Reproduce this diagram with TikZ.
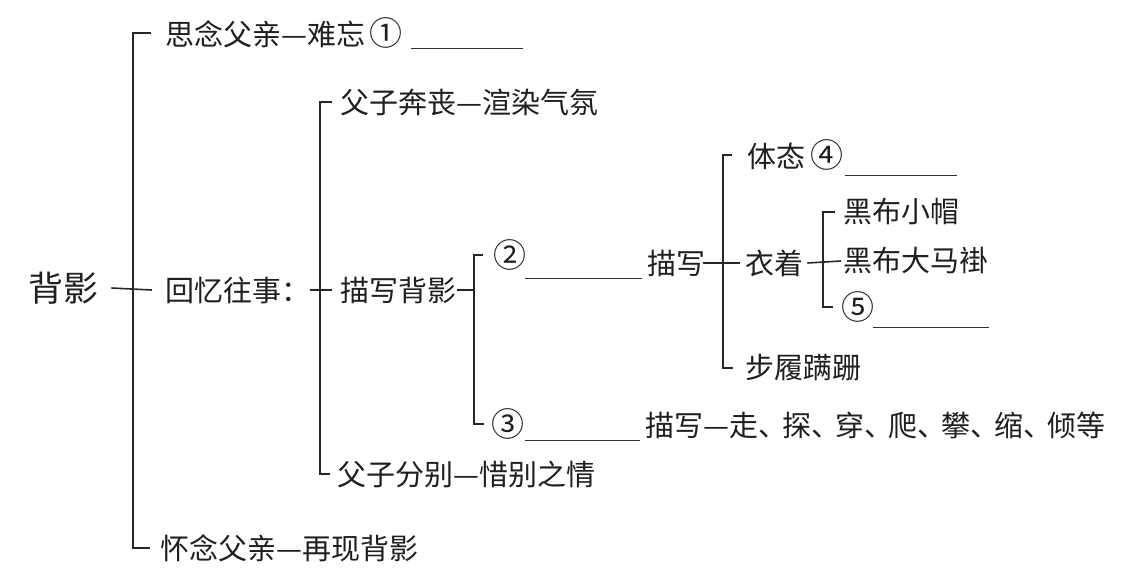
\documentclass[tikz,border=0pt]{standalone}
\usepackage{fontspec}
\newfontfamily\cjk{Noto Sans CJK SC}
\usetikzlibrary{calc}
\newcommand\dun{、\hspace{-5pt}}
\newcommand\qn[1]{{\fontsize{33}{33}\selectfont#1}}
\tikzset{txt/.style={anchor=west,inner sep=0pt,text=black!88},
brk/.style={line width=1.6pt,black!85},
blank/.style={line width=1pt,black!80}}
\begin{document}
\begin{tikzpicture}[x=1pt,y=-1pt,font=\cjk\fontsize{29}{29}\selectfont]
\useasboundingbox(0,0)rectangle(1130,582);
\node[txt,font=\cjk\fontsize{35}{35}\selectfont](bj)at(28,288){背影};
\node[txt](sn)at(165,33){思念父亲—难忘\,\qn{①}};
\node[txt](hy)at(165,290){回忆往事：};
\node[txt](hn)at(160,548){怀念父亲—再现背影};
\node[txt](bs)at(340,102){父子奔丧—渲染气氛};
\node[txt](mx)at(340,290){描写背影};
\node[txt](fb)at(337,474){父子分别—惜别之情};
\node[txt](q2)at(493,255){\qn{②}};
\node[txt](q3)at(491,424){\qn{③}};
\node[txt](ms)at(647,263){描写};
\node[txt](dz)at(645,425){描写—走\dun 探\dun 穿\dun 爬\dun 攀\dun 缩\dun 倾等};
\node[txt](tt)at(747,155){体态\,\qn{④}};
\node[txt](yz)at(745,263){衣着};
\node[txt](bl)at(745,368){步履蹒跚};
\node[txt](xm)at(843,212){黑布小帽};
\node[txt](mg)at(843,261){黑布大马褂};
\node[txt](q5)at(841,307){\qn{⑤}};
\draw[brk]([xshift=-14pt]sn.west)-|([xshift=-27pt]hn.west)--([xshift=-10pt]hn.west);
\draw[brk]([xshift=13pt]bj.east)--([xshift=-13pt]hy.west);
\draw[brk]([xshift=-8pt]bs.west)-|([xshift=-17pt]fb.west)--([xshift=-7pt]fb.west);
\draw[brk](hy.east)--([xshift=-8pt]mx.west);
\draw[brk]([xshift=-10pt]q2.west)-|([xshift=-17pt]q3.west)--([xshift=-7pt]q3.west);
\draw[brk]([xshift=1pt]mx.east)--($(q3.west|-mx.east)+(-17,0)$);
\draw[brk]([xshift=-15pt]tt.west)-|([xshift=-22pt]bl.west)--([xshift=-12pt]bl.west);
\draw[brk]([xshift=-2pt]ms.east)--([xshift=-5pt]yz.west);
\draw[brk]([xshift=-8pt]xm.west)-|([xshift=-18pt]q5.west)--([xshift=-8pt]q5.west);
\draw[brk]([xshift=4pt]yz.east)--([xshift=-2pt]mg.west);
\draw[blank]($(sn.east)+(8,15)$)--++(112,0);
\draw[blank]($(q2.east)+(-1,23)$)--++(117,0);
\draw[blank]($(q3.east)+(1,16)$)--++(115,0);
\draw[blank]($(tt.east)+(2,20)$)--++(112,0);
\draw[blank]($(q5.east)+(-1,20)$)--++(116,0);
\end{tikzpicture}
\end{document}
